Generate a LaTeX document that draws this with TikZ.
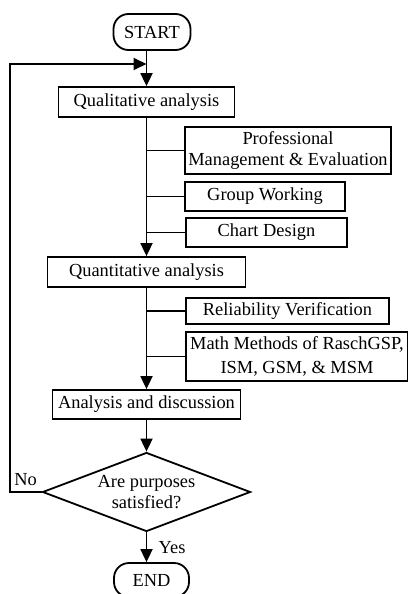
\documentclass[tikz,border=0pt]{standalone}
\usepackage{fontspec}
\setmainfont{Liberation Serif}
\usepackage{tikz}
\usetikzlibrary{arrows.meta, positioning, shapes.geometric}

\begin{document}
\begin{tikzpicture}[x=1pt, y=-1pt, line width=1.8pt,
  font=\fontsize{18.4}{21}\selectfont,
  box/.style={draw, rectangle, inner sep=2pt, align=center},
  term/.style={draw, rectangle, rounded corners=15pt, minimum width=77pt, minimum height=36pt},
  cond/.style={draw, diamond, aspect=2.6, inner sep=0pt, minimum width=208pt, minimum height=79pt, align=center},
  arr/.style={-{Triangle[length=13pt,width=12pt]}}]
\useasboundingbox (0,0) rectangle (407,594);

% START
\node[term] (start) at (152,32) {START};
\coordinate (top) at (146.5,64);

% Qualitative
\node[box, minimum width=176pt, minimum height=30pt] (qual) at (146.5,102) {Qualitative analysis};
\node[box, minimum width=206pt, minimum height=47pt] (pme) at (288,150.5) {Professional\\Management \& Evaluation};
\node[box, minimum width=160pt, minimum height=29pt] (grp) at (265,196.5) {Group Working};
\node[box, minimum width=161pt, minimum height=29pt] (chart) at (266.5,232.5) {Chart Design};

% Quantitative
\node[box, minimum width=198pt, minimum height=30pt] (quant) at (146.5,272) {Quantitative analysis};
\node[box, minimum width=203pt, minimum height=26pt] (rel) at (287.5,311) {Reliability Verification};
\node[box, minimum width=222pt, minimum height=49pt] (math) at (297,356.5) {Math Methods of RaschGSP,\\[3pt]ISM, GSM, \& MSM};

% Analysis
\node[box, minimum width=188pt, minimum height=29pt] (ana) at (146.5,404.5) {Analysis and discussion};
\node[cond] (dec) at (146.5,492) {Are purposes\\satisfied?};

% END
\node[term, minimum width=75pt, minimum height=34pt] (stop) at (151.5,580) {END};

% main line
\draw[arr] (start.south -| qual.north) -- (qual.north);
\draw[arr] (qual.south) -- (quant.north);
\draw[arr] (quant.south) -- (ana.north);
\draw[arr] (ana.south) -- (dec.north);
\draw[arr] (dec.south) -- (dec.south |- stop.north) node[midway, right, xshift=8pt] (yes) {Yes};
\draw[arr] (dec.west) -- ++(-32,0) node[midway, above, yshift=2pt] (no) {No} |- (top);

% branches
\draw (pme.west -| qual.south) -- (pme.west);
\draw (grp.west -| qual.south) -- (grp.west);
\draw (chart.west -| qual.south) -- (chart.west);
\draw (rel.west -| quant.south) -- (rel.west);
\draw (math.west -| quant.south) -- (math.west);
\end{tikzpicture}
\end{document}
